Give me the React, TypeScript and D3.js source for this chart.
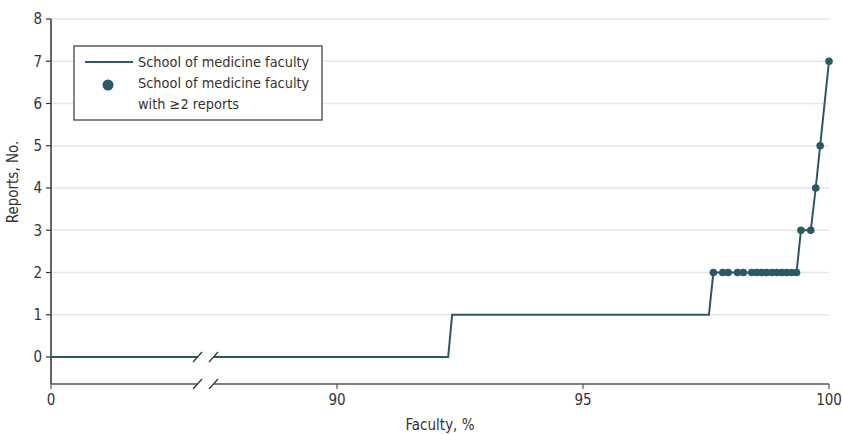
import React, { useEffect, useRef } from 'react';
import * as d3 from 'd3';

// faculty percentile (x) and number of reports (y)
const lineFaculty = [0, 92.26, 92.34, 97.56];
const lineReports = [0, 0, 1, 1];

const dotFaculty = [
  97.65, 97.84, 97.95, 98.14, 98.26,
  98.43, 98.53, 98.63, 98.73, 98.84, 98.94, 99.04, 99.14, 99.24, 99.34,
  99.43, 99.63, 99.73, 99.82, 100,
];
const dotReports = [
  2, 2, 2, 2, 2,
  2, 2, 2, 2, 2, 2, 2, 2, 2, 2,
  3, 3, 4, 5, 7,
];

const xTicks = [0, 90, 95, 100];
const yTicks = [0, 1, 2, 3, 4, 5, 6, 7, 8];
const axisBreak = [3, 87.5];

const legendLabels = ['School of medicine faculty', 'School of medicine faculty', 'with \u22652 reports'];

const COLOR = '#2b5866';
const FONT = '"DejaVu Sans Condensed", "Liberation Sans", sans-serif';

const App = () => {
  const ref = useRef<SVGSVGElement | null>(null);

  useEffect(() => {
    const root = d3.select(ref.current);
    root.selectAll('*').remove();

    const margin = { top: 19, right: 13, bottom: 50, left: 51 };
    const width = 842 - margin.left - margin.right;
    const height = 357 - margin.top; // y = 0 line
    const axisY = height + 27; // x axis sits below the zero line

    const svg = root.append('g').attr('transform', `translate(${margin.left},${margin.top})`);

    // broken x scale
    const x = d3.scaleLinear()
      .domain([0, axisBreak[0], axisBreak[1], 100])
      .range([0, 147, 163, width]);
    const y = d3.scaleLinear().domain([0, 8]).range([height, 0]);

    // clip that removes the gap of the axis break
    const defs = root.append('defs');
    const clip = defs.append('clipPath').attr('id', 'brk');
    clip.append('rect').attr('x', -2).attr('y', -10).attr('width', x(axisBreak[0]) + 2).attr('height', axisY + 20);
    clip.append('rect').attr('x', x(axisBreak[1])).attr('y', -10).attr('width', width - x(axisBreak[1]) + 10).attr('height', axisY + 20);

    // grid
    svg.append('g')
      .selectAll('line')
      .data(yTicks.filter(d => d > 0))
      .enter()
      .append('line')
      .attr('x1', 0)
      .attr('x2', width)
      .attr('y1', d => y(d))
      .attr('y2', d => y(d))
      .attr('stroke', '#e6e6e6')
      .attr('stroke-width', 1.5);

    // y axis
    svg.append('line')
      .attr('x1', 0).attr('x2', 0)
      .attr('y1', 0).attr('y2', axisY)
      .attr('stroke', '#333').attr('stroke-width', 1.5);
    const yg = svg.append('g').selectAll('g').data(yTicks).enter().append('g')
      .attr('transform', d => `translate(0,${y(d)})`);
    yg.append('line').attr('x1', -5).attr('x2', 0).attr('stroke', '#333').attr('stroke-width', 1.2);
    yg.append('text')
      .attr('x', -9)
      .attr('dy', '0.35em')
      .attr('text-anchor', 'end')
      .attr('font-size', 15)
      .attr('fill', '#333')
      .text(d => d);

    // x axis
    svg.append('line')
      .attr('clip-path', 'url(#brk)')
      .attr('x1', 0).attr('x2', width)
      .attr('y1', axisY).attr('y2', axisY)
      .attr('stroke', '#555').attr('stroke-width', 1.5);
    const xg = svg.append('g').selectAll('g').data(xTicks).enter().append('g')
      .attr('transform', d => `translate(${x(d)},${axisY})`);
    xg.append('line').attr('y1', 0).attr('y2', 5).attr('stroke', '#555').attr('stroke-width', 1.2);
    xg.append('text')
      .attr('y', 21)
      .attr('text-anchor', 'middle')
      .attr('font-size', 15)
      .attr('fill', '#333')
      .text(d => d);

    // line through all points
    const pts: [number, number][] = lineFaculty.map((f, i) => [f, lineReports[i]] as [number, number])
      .concat(dotFaculty.map((f, i) => [f, dotReports[i]] as [number, number]));
    const line = d3.line<[number, number]>().x(d => x(d[0])).y(d => y(d[1]));
    svg.append('path')
      .datum(pts)
      .attr('clip-path', 'url(#brk)')
      .attr('d', line)
      .attr('fill', 'none')
      .attr('stroke', COLOR)
      .attr('stroke-width', 2);

    // break marks
    const slashes = [x(axisBreak[0]), x(axisBreak[1])].flatMap(bx => [[bx, y(0)], [bx, axisY]]);
    svg.append('g')
      .selectAll('line')
      .data(slashes)
      .enter()
      .append('line')
      .attr('x1', d => d[0] - 5).attr('y1', d => d[1] + 5)
      .attr('x2', d => d[0] + 4).attr('y2', d => d[1] - 5)
      .attr('stroke', '#333')
      .attr('stroke-width', 1.2);

    // dots
    svg.append('g')
      .selectAll('circle')
      .data(dotFaculty)
      .enter()
      .append('circle')
      .attr('cx', d => x(d))
      .attr('cy', (d, i) => y(dotReports[i]))
      .attr('r', 3.8)
      .attr('fill', COLOR);

    // axis titles
    svg.append('text')
      .attr('x', width / 2)
      .attr('y', axisY + 46)
      .attr('text-anchor', 'middle')
      .attr('font-size', 15)
      .attr('fill', '#333')
      .text('Faculty, %');

    svg.append('text')
      .attr('transform', 'rotate(-90)')
      .attr('x', -height / 2 + 6)
      .attr('y', -33)
      .attr('text-anchor', 'middle')
      .attr('font-size', 15)
      .attr('fill', '#333')
      .text('Reports, No.');

    // legend
    const lg = root.append('g').attr('transform', 'translate(74,46)');
    lg.append('rect')
      .attr('width', 248).attr('height', 74)
      .attr('fill', '#fff').attr('stroke', '#444').attr('stroke-width', 1.3);
    lg.append('line')
      .attr('x1', 11).attr('x2', 59).attr('y1', 16).attr('y2', 16)
      .attr('stroke', COLOR).attr('stroke-width', 2);
    lg.append('circle').attr('cx', 34).attr('cy', 39).attr('r', 5.5).attr('fill', COLOR);
    lg.selectAll('text.lab')
      .data(legendLabels)
      .enter()
      .append('text')
      .attr('class', 'lab')
      .attr('x', 64)
      .attr('y', (d, i) => 16 + i * 21)
      .attr('dy', '0.35em')
      .attr('font-size', 14.4)
      .attr('fill', '#333')
      .text(d => d);
  }, []);

  return (
    <svg ref={ref} width={842} height={434}
      style={{ position: 'absolute', left: 0, top: 0, fontFamily: FONT, background: '#fff' }} />
  );
};

export default App;
